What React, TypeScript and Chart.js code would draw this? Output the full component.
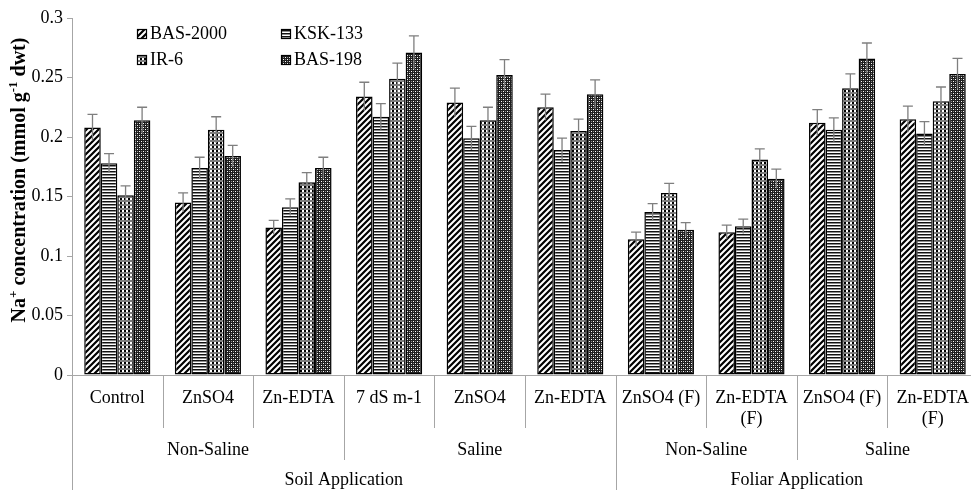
import React, { useEffect, useRef } from "react";
import { Chart, registerables } from "chart.js";

Chart.register(...registerables);

// ---------- DATA ----------
const categories: (string | string[])[] = [
  "Control",
  "ZnSO4",
  "Zn-EDTA",
  "7 dS m-1",
  "ZnSO4",
  "Zn-EDTA",
  "ZnSO4 (F)",
  ["Zn-EDTA", "(F)"],
  "ZnSO4 (F)",
  ["Zn-EDTA", "(F)"],
];

// second level (salinity) groups: [label, firstIndex, lastIndex]
const salinityGroups: [string, number, number][] = [
  ["Non-Saline", 0, 2],
  ["Saline", 3, 5],
  ["Non-Saline", 6, 7],
  ["Saline", 8, 9],
];

// third level (application) groups
const applicationGroups: [string, number, number][] = [
  ["Soil Application", 0, 5],
  ["Foliar Application", 6, 9],
];

const seriesNames = ["BAS-2000", "KSK-133", "IR-6", "BAS-198"];

const bas2000 = [0.208, 0.145, 0.124, 0.234, 0.229, 0.225, 0.114, 0.12, 0.212, 0.215];
const ksk133 = [0.178, 0.174, 0.141, 0.217, 0.199, 0.189, 0.137, 0.125, 0.206, 0.203];
const ir6 = [0.151, 0.206, 0.162, 0.249, 0.214, 0.205, 0.153, 0.181, 0.241, 0.23];
const bas198 = [0.214, 0.184, 0.174, 0.271, 0.252, 0.236, 0.122, 0.165, 0.266, 0.253];

const bas2000Err = [0.011, 0.008, 0.006, 0.012, 0.012, 0.011, 0.006, 0.006, 0.011, 0.011];
const ksk133Err = [0.008, 0.009, 0.007, 0.011, 0.01, 0.01, 0.007, 0.006, 0.01, 0.01];
const ir6Err = [0.008, 0.011, 0.008, 0.013, 0.011, 0.01, 0.008, 0.009, 0.012, 0.012];
const bas198Err = [0.011, 0.009, 0.009, 0.014, 0.013, 0.012, 0.006, 0.008, 0.013, 0.013];

const yMin = 0;
const yMax = 0.3;
const yStep = 0.05;

const yTitleParts: [string, boolean][] = [
  ["Na", false],
  ["+", true],
  [" concentration (mmol g", false],
  ["-1", true],
  [" dwt)", false],
];

// ---------- STYLE ----------
const FONT = "'Liberation Serif', 'Times New Roman', serif";
const AXIS_GRAY = "#a6a6a6";

function makePattern(w: number, h: number, draw: (g: CanvasRenderingContext2D) => void) {
  const c = document.createElement("canvas");
  c.width = w;
  c.height = h;
  const g = c.getContext("2d")!;
  draw(g);
  return g.createPattern(c, "repeat")!;
}

function buildPatterns() {
  const hatch = makePattern(6, 6, (g) => {
    g.fillStyle = "#fff";
    g.fillRect(0, 0, 6, 6);
    g.strokeStyle = "#000";
    g.lineWidth = 2.2;
    g.beginPath();
    g.moveTo(-1, 7);
    g.lineTo(7, -1);
    g.moveTo(-4, 4);
    g.lineTo(4, -4);
    g.moveTo(2, 10);
    g.lineTo(10, 2);
    g.stroke();
  });
  const stripes = makePattern(4, 3, (g) => {
    g.fillStyle = "#fff";
    g.fillRect(0, 0, 4, 3);
    g.fillStyle = "#111";
    g.fillRect(0, 0, 4, 1);
    g.fillStyle = "#8c8c8c";
    g.fillRect(0, 1, 4, 1);
  });
  const grid = makePattern(4, 4, (g) => {
    g.fillStyle = "#fff";
    g.fillRect(0, 0, 4, 4);
    g.fillStyle = "#7e7e7e";
    g.fillRect(0, 0, 4, 2);
    g.fillStyle = "#000";
    g.fillRect(0, 2, 2, 2);
  });
  const dots = makePattern(4, 4, (g) => {
    g.fillStyle = "#1e1e1e";
    g.fillRect(0, 0, 4, 4);
    g.fillStyle = "#fff";
    g.fillRect(1, 1, 1, 1);
    g.fillRect(3, 3, 1, 1);
    g.fillStyle = "#8a8a8a";
    g.fillRect(3, 1, 1, 1);
    g.fillRect(1, 3, 1, 1);
  });
  return [hatch, stripes, grid, dots];
}

const errorBarPlugin = {
  id: "errorBars",
  afterDatasetsDraw(chart: any) {
    const ctx = chart.ctx;
    const y = chart.scales.y;
    ctx.save();
    ctx.strokeStyle = "#7f7f7f";
    ctx.lineWidth = 1.3;
    chart.data.datasets.forEach((ds: any, i: number) => {
      const meta = chart.getDatasetMeta(i);
      meta.data.forEach((el: any, j: number) => {
        const v = ds.data[j];
        const e = ds.errors[j];
        const yt = y.getPixelForValue(v + e);
        const yb = y.getPixelForValue(v - e);
        ctx.beginPath();
        ctx.moveTo(el.x, yb);
        ctx.lineTo(el.x, yt);
        ctx.moveTo(el.x - 5, yt);
        ctx.lineTo(el.x + 5, yt);
        ctx.stroke();
      });
    });
    ctx.restore();
  },
};

const decorPlugin = {
  id: "decor",
  afterDraw(chart: any) {
    const ctx = chart.ctx;
    const x = chart.scales.x;
    const area = chart.chartArea;
    const H = chart.height;
    const n = categories.length;
    const boundary = (i: number) => {
      if (i <= 0) return x.left;
      if (i >= n) return x.right;
      return (x.getPixelForValue(i - 1) + x.getPixelForValue(i)) / 2;
    };
    ctx.save();
    ctx.strokeStyle = AXIS_GRAY;
    ctx.lineWidth = 1;
    const vline = (px: number, y1: number, y2: number) => {
      const xx = Math.round(px) + 0.5;
      ctx.beginPath();
      ctx.moveTo(xx, y1);
      ctx.lineTo(xx, y2);
      ctx.stroke();
    };
    const bottom = area.bottom;
    const appStarts = new Set(applicationGroups.map((g) => g[1]));
    appStarts.add(n);
    const salStarts = new Set(salinityGroups.map((g) => g[1]));
    for (let i = 0; i <= n; i++) {
      if (appStarts.has(i) || i === 0) vline(boundary(i), bottom, H);
      else if (salStarts.has(i)) vline(boundary(i), bottom, bottom + 85);
      else vline(boundary(i), bottom, bottom + 53);
    }
    // group labels
    ctx.fillStyle = "#000";
    ctx.font = `18px ${FONT}`;
    ctx.textAlign = "center";
    ctx.textBaseline = "middle";
    salinityGroups.forEach(([label, a, b]) => {
      ctx.fillText(label, (boundary(a) + boundary(b + 1)) / 2, bottom + 75);
    });
    applicationGroups.forEach(([label, a, b]) => {
      ctx.fillText(label, (boundary(a) + boundary(b + 1)) / 2, bottom + 105);
    });

    // legend
    const datasets = chart.data.datasets;
    datasets.forEach((ds: any, i: number) => {
      const col = i % 2;
      const row = Math.floor(i / 2);
      const bx = area.left + 65 + col * 144;
      const by = area.top + 11 + row * 26;
      ctx.fillStyle = ds.backgroundColor;
      ctx.fillRect(bx, by, 10, 10);
      ctx.strokeStyle = "#000";
      ctx.lineWidth = 1.2;
      ctx.strokeRect(bx + 0.5, by + 0.5, 9, 9);
      ctx.fillStyle = "#000";
      ctx.font = `18px ${FONT}`;
      ctx.textAlign = "left";
      ctx.textBaseline = "middle";
      ctx.fillText(ds.label, bx + 13, by + 5.5);
    });

    // y-axis title
    const big = `bold 20px ${FONT}`;
    const small = `bold 13px ${FONT}`;
    let total = 0;
    yTitleParts.forEach(([t, sup]) => {
      ctx.font = sup ? small : big;
      total += ctx.measureText(t).width;
    });
    ctx.translate(20, 180);
    ctx.rotate(-Math.PI / 2);
    ctx.textAlign = "left";
    ctx.textBaseline = "middle";
    ctx.fillStyle = "#000";
    let cx = -total / 2;
    yTitleParts.forEach(([t, sup]) => {
      ctx.font = sup ? small : big;
      ctx.fillText(t, cx, sup ? -6 : 0);
      cx += ctx.measureText(t).width;
    });
    ctx.restore();
  },
};

export default function App() {
  const ref = useRef<HTMLCanvasElement | null>(null);

  useEffect(() => {
    if (!ref.current) return;
    const patterns = buildPatterns();
    const values = [bas2000, ksk133, ir6, bas198];
    const errs = [bas2000Err, ksk133Err, ir6Err, bas198Err];
    const chart = new Chart(ref.current, {
      type: "bar",
      data: {
        labels: categories as any,
        datasets: seriesNames.map((name, i) => ({
          label: name,
          data: values[i],
          errors: errs[i],
          backgroundColor: patterns[i],
          borderColor: "#000",
          borderWidth: 1.5,
          borderSkipped: false,
          categoryPercentage: 0.73,
          barPercentage: 1,
        })) as any,
      },
      options: {
        animation: false,
        responsive: false,
        devicePixelRatio: 1,
        layout: { padding: { top: 18, right: 2, left: 0, bottom: 0 } },
        plugins: {
          legend: { display: false },
          tooltip: { enabled: false },
          title: { display: false },
        },
        scales: {
          x: {
            grid: { display: false },
            border: { display: true, color: AXIS_GRAY, width: 1 },
            ticks: {
              autoSkip: false,
              maxRotation: 0,
              minRotation: 0,
              padding: 5,
              color: "#000",
              font: { family: FONT, size: 18, lineHeight: 1.17 },
            },
            afterFit: (s: any) => {
              s.height = 115;
            },
          },
          y: {
            min: yMin,
            max: yMax,
            grid: {
              display: true,
              drawOnChartArea: false,
              drawTicks: true,
              tickLength: 5,
              color: AXIS_GRAY,
            },
            border: { display: true, color: AXIS_GRAY, width: 1 },
            ticks: {
              stepSize: yStep,
              padding: 4,
              color: "#000",
              font: { family: FONT, size: 18 },
              callback: (v: any) => String(Number(Number(v).toFixed(2))),
            },
            afterFit: (s: any) => {
              s.width = 72;
            },
          },
        },
      },
      plugins: [errorBarPlugin, decorPlugin],
    });
    return () => chart.destroy();
  }, []);

  return (
    <div
      style={{
        position: "absolute",
        left: 0,
        top: 0,
        width: 971,
        height: 490,
        overflow: "hidden",
        background: "#fff",
      }}
    >
      <canvas ref={ref} width={980} height={490} style={{ width: 980, height: 490, display: "block" }} />
    </div>
  );
}
